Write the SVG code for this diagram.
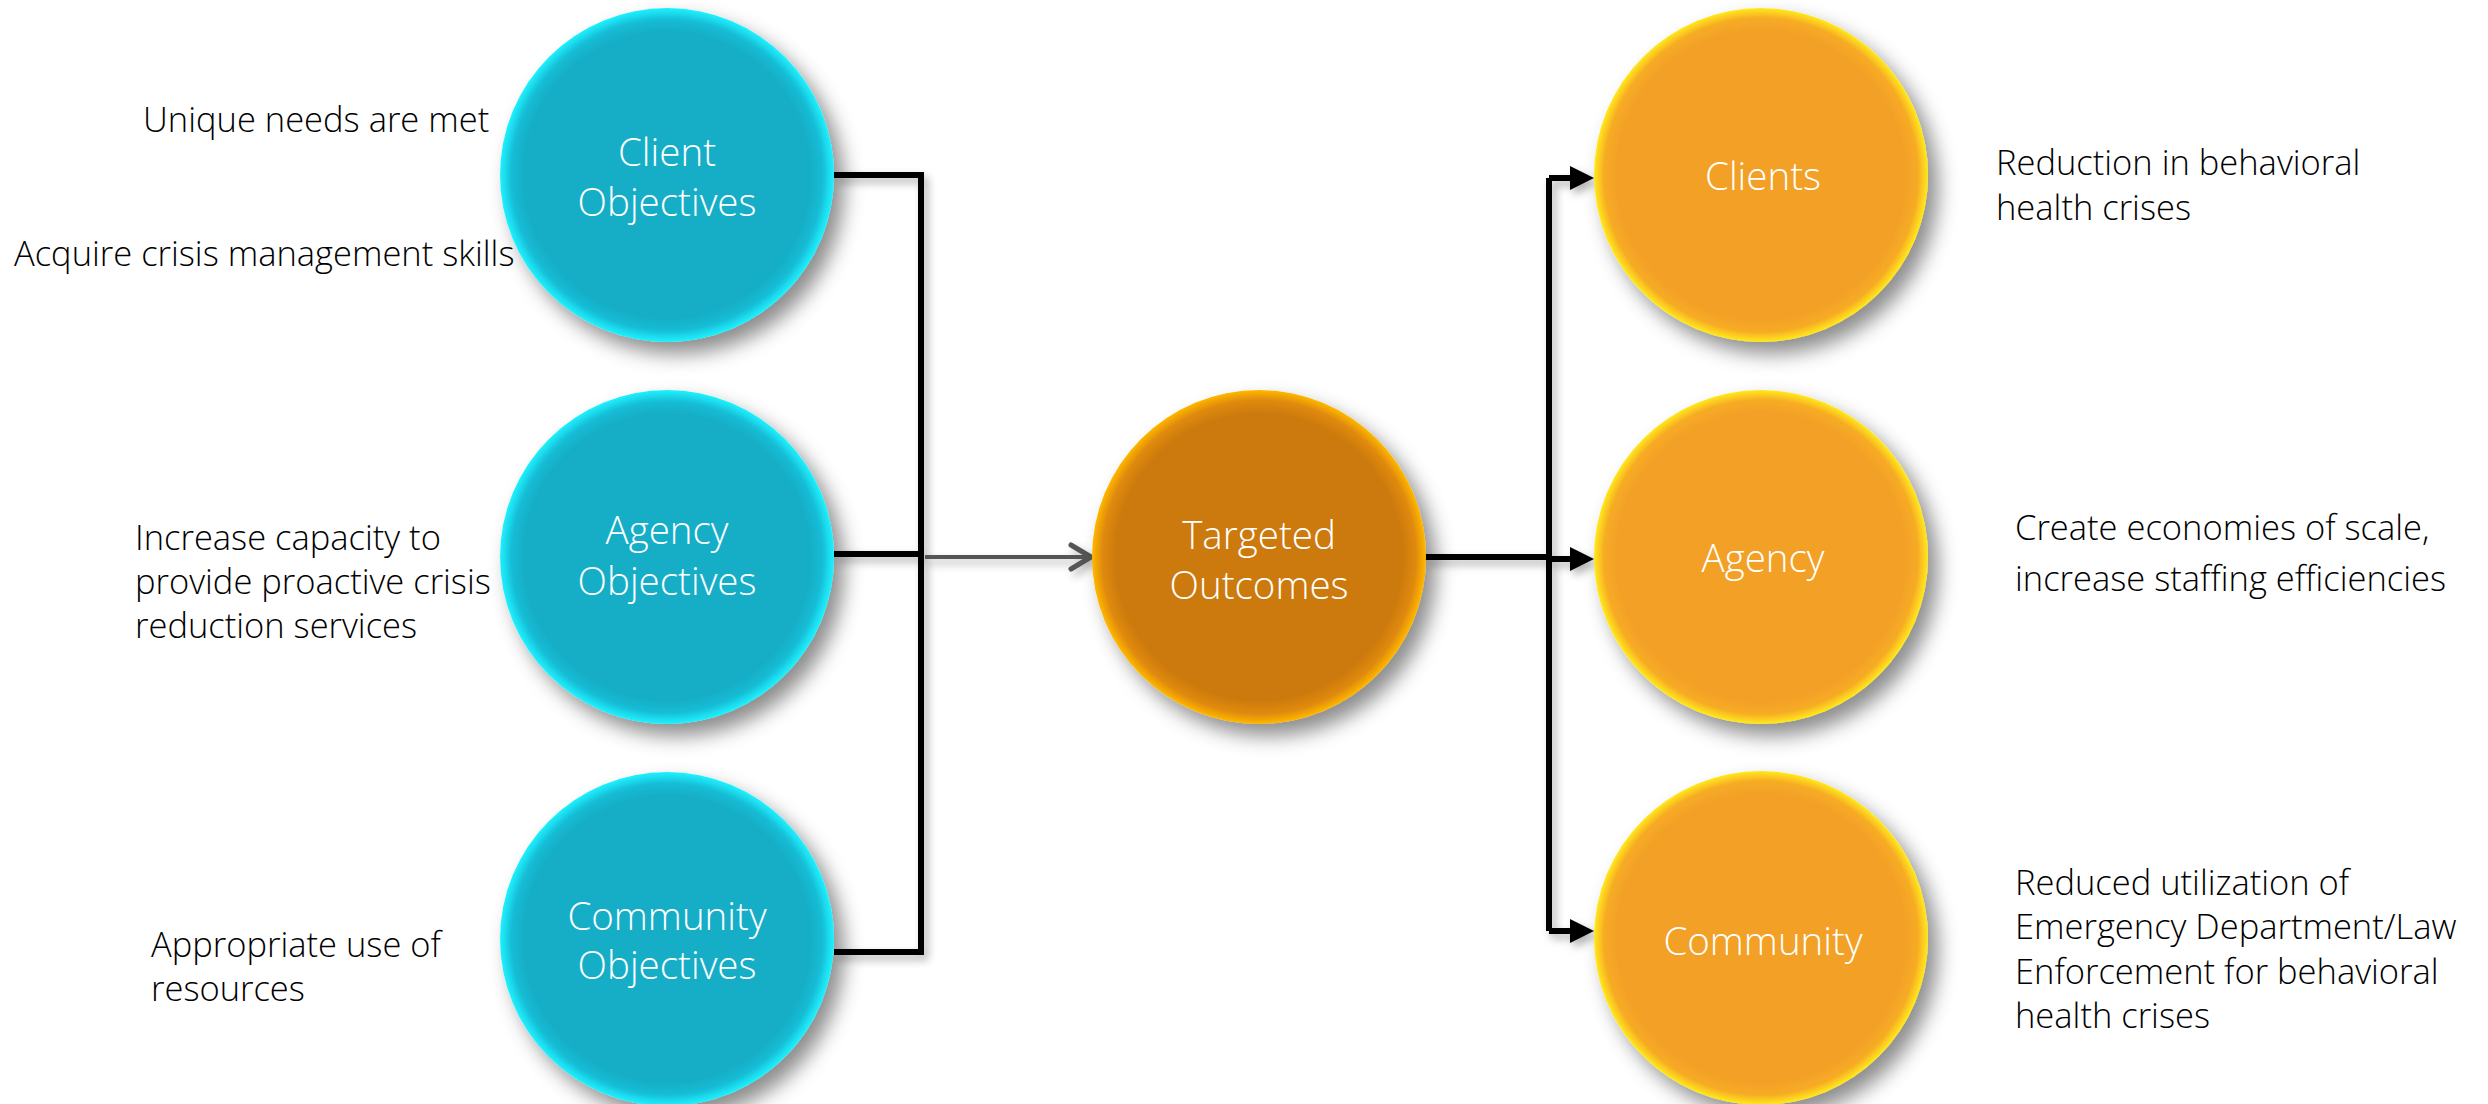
<svg xmlns="http://www.w3.org/2000/svg" width="2488" height="1104" viewBox="0 0 2488 1104">
<defs>
<radialGradient id="gBlue" cx="0.5" cy="0.5" r="0.5">
<stop offset="0" stop-color="#13AEC7"/>
<stop offset="0.86" stop-color="#13AEC7"/>
<stop offset="0.93" stop-color="#16BCD5"/>
<stop offset="1" stop-color="#1FF2FF"/>
</radialGradient>
<radialGradient id="gOrange" cx="0.5" cy="0.5" r="0.5">
<stop offset="0" stop-color="#F2A027"/>
<stop offset="0.86" stop-color="#F2A027"/>
<stop offset="0.94" stop-color="#F7AB24"/>
<stop offset="1" stop-color="#FFEA1C"/>
</radialGradient>
<radialGradient id="gDark" cx="0.5" cy="0.5" r="0.5">
<stop offset="0" stop-color="#CC7A09"/>
<stop offset="0.86" stop-color="#CC7A09"/>
<stop offset="0.94" stop-color="#E08A0B"/>
<stop offset="1" stop-color="#FFB800"/>
</radialGradient>
<filter id="shadow" x="-20%" y="-20%" width="150%" height="150%">
<feDropShadow dx="10" dy="12" stdDeviation="10" flood-color="#000" flood-opacity="0.45"/>
</filter>
<filter id="lshadow" x="-10%" y="-10%" width="130%" height="130%">
<feDropShadow dx="4" dy="5" stdDeviation="4" flood-color="#000" flood-opacity="0.3"/>
</filter>
</defs>
<style>
.lbl{font-family:"Open Sans","Segoe UI","Liberation Sans",sans-serif;font-weight:300;font-size:38.5px;fill:#ffffff;text-anchor:middle}
.side{font-family:"Open Sans","Segoe UI","Liberation Sans",sans-serif;font-weight:300;font-size:34.5px;fill:#000000}
.bus{fill:none;stroke:#000;stroke-width:6;stroke-linejoin:miter}
</style>
<rect width="2488" height="1104" fill="#ffffff"/>

<g id="connectors" filter="url(#lshadow)">
<path class="bus" d="M834,175 H921 V952 H834"/>
<path class="bus" d="M834,554 H921"/>
<path d="M925,557 H1088" fill="none" stroke="#555555" stroke-width="4"/>
<polyline points="1071,545 1091,557 1071,569" fill="none" stroke="#555555" stroke-width="5" stroke-linecap="round" stroke-linejoin="round"/>
<path class="bus" d="M1425,557 H1549"/>
<path class="bus" d="M1549,178 V931"/>
<path class="bus" d="M1549,178 H1572"/>
<path class="bus" d="M1549,559 H1572"/>
<path class="bus" d="M1549,931 H1572"/>
<polygon points="1570,166 1594,178 1570,190" fill="#000"/>
<polygon points="1570,547 1594,559 1570,571" fill="#000"/>
<polygon points="1570,919 1594,931 1570,943" fill="#000"/>
</g>

<g id="client-objectives">
<circle cx="667" cy="175" r="167" fill="url(#gBlue)" filter="url(#shadow)"/>
<text class="lbl" x="667" y="166">Client</text>
<text class="lbl" x="667" y="216">Objectives</text>
</g>
<g id="agency-objectives">
<circle cx="667" cy="557" r="167" fill="url(#gBlue)" filter="url(#shadow)"/>
<text class="lbl" x="667" y="544">Agency</text>
<text class="lbl" x="667" y="595">Objectives</text>
</g>
<g id="community-objectives">
<circle cx="667" cy="939" r="167" fill="url(#gBlue)" filter="url(#shadow)"/>
<text class="lbl" x="667" y="930">Community</text>
<text class="lbl" x="667" y="979">Objectives</text>
</g>
<g id="targeted-outcomes">
<circle cx="1259" cy="557" r="167" fill="url(#gDark)" filter="url(#shadow)"/>
<text class="lbl" x="1259" y="549">Targeted</text>
<text class="lbl" x="1259" y="599">Outcomes</text>
</g>
<g id="clients">
<circle cx="1761" cy="175" r="167" fill="url(#gOrange)" filter="url(#shadow)"/>
<text class="lbl" x="1763" y="190">Clients</text>
</g>
<g id="agency">
<circle cx="1761" cy="557" r="167" fill="url(#gOrange)" filter="url(#shadow)"/>
<text class="lbl" x="1763" y="572">Agency</text>
</g>
<g id="community">
<circle cx="1761" cy="938" r="167" fill="url(#gOrange)" filter="url(#shadow)"/>
<text class="lbl" x="1763" y="955">Community</text>
</g>

<g id="client-notes">
<text class="side" x="143" y="132">Unique needs are met</text>
<text class="side" x="14" y="266">Acquire crisis management skills</text>
</g>
<g id="agency-notes">
<text class="side" x="135" y="550">Increase capacity to</text>
<text class="side" x="135" y="594">provide proactive crisis</text>
<text class="side" x="135" y="638">reduction services</text>
</g>
<g id="community-notes">
<text class="side" x="151" y="957">Appropriate use of</text>
<text class="side" x="151" y="1001">resources</text>
</g>
<g id="clients-notes">
<text class="side" x="1996" y="175">Reduction in behavioral</text>
<text class="side" x="1996" y="220">health crises</text>
</g>
<g id="agency-outcome-notes">
<text class="side" x="2015" y="540">Create economies of scale,</text>
<text class="side" x="2015" y="591">increase staffing efficiencies</text>
</g>
<g id="community-outcome-notes">
<text class="side" x="2015" y="895">Reduced utilization of</text>
<text class="side" x="2015" y="939">Emergency Department/Law</text>
<text class="side" x="2015" y="984">Enforcement for behavioral</text>
<text class="side" x="2015" y="1028">health crises</text>
</g>
</svg>
